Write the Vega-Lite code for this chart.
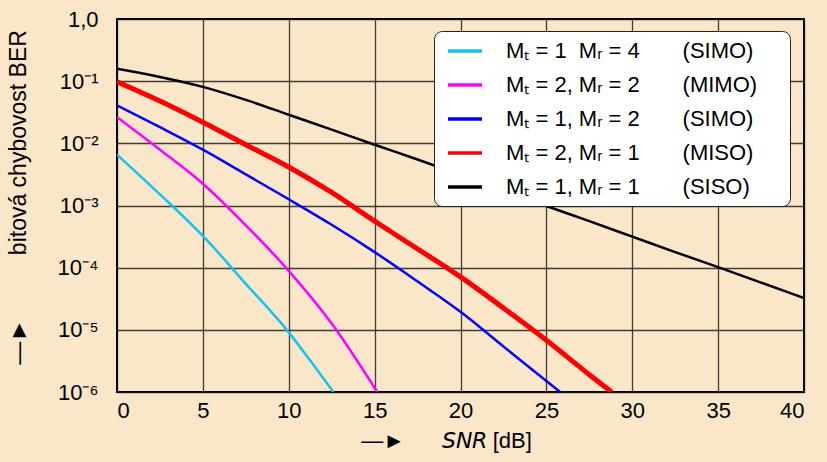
{
  "$schema": "https://vega.github.io/schema/vega-lite/v6.json",
  "width": 687,
  "height": 373,
  "autosize": {"type": "none"},
  "padding": {"left": 117, "top": 19, "right": 23, "bottom": 70},
  "background": "#FAE6C9",
  "config": {
    "font": "Liberation Sans",
    "view": {"stroke": "#000", "strokeWidth": 2, "fill": "#FAE6C9"},
    "axis": {
      "grid": true,
      "gridColor": "#111",
      "gridWidth": 1.3,
      "gridOpacity": 0.8,
      "ticks": false,
      "domain": false,
      "labelColor": "#000",
      "labelFont": "Liberation Sans",
      "labelFontSize": 22,
      "titleColor": "#000",
      "titleFont": "Liberation Sans",
      "titleFontSize": 22,
      "titleFontWeight": "normal"
    }
  },
  "data": {
    "values": [
      {"s": "Mₜ = 1\u00a0\u00a0Mᵣ = 4\u00a0\u00a0\u00a0\u00a0\u00a0\u00a0\u00a0(SIMO)\u00a0\u00a0\u00a0\u00a0\u200b", "snr": 0, "ber": 0.0066},
      {"s": "Mₜ = 1\u00a0\u00a0Mᵣ = 4\u00a0\u00a0\u00a0\u00a0\u00a0\u00a0\u00a0(SIMO)\u00a0\u00a0\u00a0\u00a0\u200b", "snr": 2.5, "ber": 0.00151},
      {"s": "Mₜ = 1\u00a0\u00a0Mᵣ = 4\u00a0\u00a0\u00a0\u00a0\u00a0\u00a0\u00a0(SIMO)\u00a0\u00a0\u00a0\u00a0\u200b", "snr": 5, "ber": 0.000324},
      {"s": "Mₜ = 1\u00a0\u00a0Mᵣ = 4\u00a0\u00a0\u00a0\u00a0\u00a0\u00a0\u00a0(SIMO)\u00a0\u00a0\u00a0\u00a0\u200b", "snr": 7.5, "ber": 0.000055},
      {"s": "Mₜ = 1\u00a0\u00a0Mᵣ = 4\u00a0\u00a0\u00a0\u00a0\u00a0\u00a0\u00a0(SIMO)\u00a0\u00a0\u00a0\u00a0\u200b", "snr": 10, "ber": 0.0000091},
      {"s": "Mₜ = 1\u00a0\u00a0Mᵣ = 4\u00a0\u00a0\u00a0\u00a0\u00a0\u00a0\u00a0(SIMO)\u00a0\u00a0\u00a0\u00a0\u200b", "snr": 11.25, "ber": 0.0000032},
      {"s": "Mₜ = 1\u00a0\u00a0Mᵣ = 4\u00a0\u00a0\u00a0\u00a0\u00a0\u00a0\u00a0(SIMO)\u00a0\u00a0\u00a0\u00a0\u200b", "snr": 12.6, "ber": 0.000001},

      {"s": "Mₜ = 2,\u00a0Mᵣ = 2\u00a0\u00a0\u00a0\u00a0\u00a0\u00a0\u00a0(MIMO)\u00a0\u00a0\u00a0\u00a0\u200b", "snr": 0, "ber": 0.0263},
      {"s": "Mₜ = 2,\u00a0Mᵣ = 2\u00a0\u00a0\u00a0\u00a0\u00a0\u00a0\u00a0(MIMO)\u00a0\u00a0\u00a0\u00a0\u200b", "snr": 2.5, "ber": 0.0079},
      {"s": "Mₜ = 2,\u00a0Mᵣ = 2\u00a0\u00a0\u00a0\u00a0\u00a0\u00a0\u00a0(MIMO)\u00a0\u00a0\u00a0\u00a0\u200b", "snr": 5, "ber": 0.00224},
      {"s": "Mₜ = 2,\u00a0Mᵣ = 2\u00a0\u00a0\u00a0\u00a0\u00a0\u00a0\u00a0(MIMO)\u00a0\u00a0\u00a0\u00a0\u200b", "snr": 7.5, "ber": 0.00048},
      {"s": "Mₜ = 2,\u00a0Mᵣ = 2\u00a0\u00a0\u00a0\u00a0\u00a0\u00a0\u00a0(MIMO)\u00a0\u00a0\u00a0\u00a0\u200b", "snr": 10, "ber": 0.000089},
      {"s": "Mₜ = 2,\u00a0Mᵣ = 2\u00a0\u00a0\u00a0\u00a0\u00a0\u00a0\u00a0(MIMO)\u00a0\u00a0\u00a0\u00a0\u200b", "snr": 12.5, "ber": 0.0000126},
      {"s": "Mₜ = 2,\u00a0Mᵣ = 2\u00a0\u00a0\u00a0\u00a0\u00a0\u00a0\u00a0(MIMO)\u00a0\u00a0\u00a0\u00a0\u200b", "snr": 15.15, "ber": 0.000001},

      {"s": "Mₜ = 1,\u00a0Mᵣ = 2\u00a0\u00a0\u00a0\u00a0\u00a0\u00a0\u00a0(SIMO)\u00a0\u00a0\u00a0\u00a0\u200b", "snr": 0, "ber": 0.0407},
      {"s": "Mₜ = 1,\u00a0Mᵣ = 2\u00a0\u00a0\u00a0\u00a0\u00a0\u00a0\u00a0(SIMO)\u00a0\u00a0\u00a0\u00a0\u200b", "snr": 2.5, "ber": 0.0182},
      {"s": "Mₜ = 1,\u00a0Mᵣ = 2\u00a0\u00a0\u00a0\u00a0\u00a0\u00a0\u00a0(SIMO)\u00a0\u00a0\u00a0\u00a0\u200b", "snr": 5, "ber": 0.0079},
      {"s": "Mₜ = 1,\u00a0Mᵣ = 2\u00a0\u00a0\u00a0\u00a0\u00a0\u00a0\u00a0(SIMO)\u00a0\u00a0\u00a0\u00a0\u200b", "snr": 7.5, "ber": 0.00316},
      {"s": "Mₜ = 1,\u00a0Mᵣ = 2\u00a0\u00a0\u00a0\u00a0\u00a0\u00a0\u00a0(SIMO)\u00a0\u00a0\u00a0\u00a0\u200b", "snr": 10, "ber": 0.00126},
      {"s": "Mₜ = 1,\u00a0Mᵣ = 2\u00a0\u00a0\u00a0\u00a0\u00a0\u00a0\u00a0(SIMO)\u00a0\u00a0\u00a0\u00a0\u200b", "snr": 12.5, "ber": 0.00049},
      {"s": "Mₜ = 1,\u00a0Mᵣ = 2\u00a0\u00a0\u00a0\u00a0\u00a0\u00a0\u00a0(SIMO)\u00a0\u00a0\u00a0\u00a0\u200b", "snr": 15, "ber": 0.000178},
      {"s": "Mₜ = 1,\u00a0Mᵣ = 2\u00a0\u00a0\u00a0\u00a0\u00a0\u00a0\u00a0(SIMO)\u00a0\u00a0\u00a0\u00a0\u200b", "snr": 17.5, "ber": 0.00006},
      {"s": "Mₜ = 1,\u00a0Mᵣ = 2\u00a0\u00a0\u00a0\u00a0\u00a0\u00a0\u00a0(SIMO)\u00a0\u00a0\u00a0\u00a0\u200b", "snr": 20, "ber": 0.0000195},
      {"s": "Mₜ = 1,\u00a0Mᵣ = 2\u00a0\u00a0\u00a0\u00a0\u00a0\u00a0\u00a0(SIMO)\u00a0\u00a0\u00a0\u00a0\u200b", "snr": 22.5, "ber": 0.0000054},
      {"s": "Mₜ = 1,\u00a0Mᵣ = 2\u00a0\u00a0\u00a0\u00a0\u00a0\u00a0\u00a0(SIMO)\u00a0\u00a0\u00a0\u00a0\u200b", "snr": 25, "ber": 0.0000015},
      {"s": "Mₜ = 1,\u00a0Mᵣ = 2\u00a0\u00a0\u00a0\u00a0\u00a0\u00a0\u00a0(SIMO)\u00a0\u00a0\u00a0\u00a0\u200b", "snr": 25.8, "ber": 0.000001},

      {"s": "Mₜ = 2,\u00a0Mᵣ = 1\u00a0\u00a0\u00a0\u00a0\u00a0\u00a0\u00a0(MISO)\u00a0\u00a0\u00a0\u00a0\u200b", "snr": 0, "ber": 0.098},
      {"s": "Mₜ = 2,\u00a0Mᵣ = 1\u00a0\u00a0\u00a0\u00a0\u00a0\u00a0\u00a0(MISO)\u00a0\u00a0\u00a0\u00a0\u200b", "snr": 2.5, "ber": 0.048},
      {"s": "Mₜ = 2,\u00a0Mᵣ = 1\u00a0\u00a0\u00a0\u00a0\u00a0\u00a0\u00a0(MISO)\u00a0\u00a0\u00a0\u00a0\u200b", "snr": 5, "ber": 0.0219},
      {"s": "Mₜ = 2,\u00a0Mᵣ = 1\u00a0\u00a0\u00a0\u00a0\u00a0\u00a0\u00a0(MISO)\u00a0\u00a0\u00a0\u00a0\u200b", "snr": 7.5, "ber": 0.0095},
      {"s": "Mₜ = 2,\u00a0Mᵣ = 1\u00a0\u00a0\u00a0\u00a0\u00a0\u00a0\u00a0(MISO)\u00a0\u00a0\u00a0\u00a0\u200b", "snr": 10, "ber": 0.00417},
      {"s": "Mₜ = 2,\u00a0Mᵣ = 1\u00a0\u00a0\u00a0\u00a0\u00a0\u00a0\u00a0(MISO)\u00a0\u00a0\u00a0\u00a0\u200b", "snr": 12.5, "ber": 0.00162},
      {"s": "Mₜ = 2,\u00a0Mᵣ = 1\u00a0\u00a0\u00a0\u00a0\u00a0\u00a0\u00a0(MISO)\u00a0\u00a0\u00a0\u00a0\u200b", "snr": 15, "ber": 0.00056},
      {"s": "Mₜ = 2,\u00a0Mᵣ = 1\u00a0\u00a0\u00a0\u00a0\u00a0\u00a0\u00a0(MISO)\u00a0\u00a0\u00a0\u00a0\u200b", "snr": 17.5, "ber": 0.0002},
      {"s": "Mₜ = 2,\u00a0Mᵣ = 1\u00a0\u00a0\u00a0\u00a0\u00a0\u00a0\u00a0(MISO)\u00a0\u00a0\u00a0\u00a0\u200b", "snr": 20, "ber": 0.000071},
      {"s": "Mₜ = 2,\u00a0Mᵣ = 1\u00a0\u00a0\u00a0\u00a0\u00a0\u00a0\u00a0(MISO)\u00a0\u00a0\u00a0\u00a0\u200b", "snr": 22.5, "ber": 0.0000224},
      {"s": "Mₜ = 2,\u00a0Mᵣ = 1\u00a0\u00a0\u00a0\u00a0\u00a0\u00a0\u00a0(MISO)\u00a0\u00a0\u00a0\u00a0\u200b", "snr": 25, "ber": 0.0000068},
      {"s": "Mₜ = 2,\u00a0Mᵣ = 1\u00a0\u00a0\u00a0\u00a0\u00a0\u00a0\u00a0(MISO)\u00a0\u00a0\u00a0\u00a0\u200b", "snr": 27.5, "ber": 0.0000019},
      {"s": "Mₜ = 2,\u00a0Mᵣ = 1\u00a0\u00a0\u00a0\u00a0\u00a0\u00a0\u00a0(MISO)\u00a0\u00a0\u00a0\u00a0\u200b", "snr": 28.8, "ber": 0.000001},

      {"s": "Mₜ = 1,\u00a0Mᵣ = 1\u00a0\u00a0\u00a0\u00a0\u00a0\u00a0\u00a0(SISO)\u00a0\u00a0\u00a0\u00a0\u200b", "snr": 0, "ber": 0.158},
      {"s": "Mₜ = 1,\u00a0Mᵣ = 1\u00a0\u00a0\u00a0\u00a0\u00a0\u00a0\u00a0(SISO)\u00a0\u00a0\u00a0\u00a0\u200b", "snr": 2.5, "ber": 0.117},
      {"s": "Mₜ = 1,\u00a0Mᵣ = 1\u00a0\u00a0\u00a0\u00a0\u00a0\u00a0\u00a0(SISO)\u00a0\u00a0\u00a0\u00a0\u200b", "snr": 5, "ber": 0.081},
      {"s": "Mₜ = 1,\u00a0Mᵣ = 1\u00a0\u00a0\u00a0\u00a0\u00a0\u00a0\u00a0(SISO)\u00a0\u00a0\u00a0\u00a0\u200b", "snr": 7.5, "ber": 0.05},
      {"s": "Mₜ = 1,\u00a0Mᵣ = 1\u00a0\u00a0\u00a0\u00a0\u00a0\u00a0\u00a0(SISO)\u00a0\u00a0\u00a0\u00a0\u200b", "snr": 10, "ber": 0.0288},
      {"s": "Mₜ = 1,\u00a0Mᵣ = 1\u00a0\u00a0\u00a0\u00a0\u00a0\u00a0\u00a0(SISO)\u00a0\u00a0\u00a0\u00a0\u200b", "snr": 12.5, "ber": 0.0166},
      {"s": "Mₜ = 1,\u00a0Mᵣ = 1\u00a0\u00a0\u00a0\u00a0\u00a0\u00a0\u00a0(SISO)\u00a0\u00a0\u00a0\u00a0\u200b", "snr": 15, "ber": 0.0095},
      {"s": "Mₜ = 1,\u00a0Mᵣ = 1\u00a0\u00a0\u00a0\u00a0\u00a0\u00a0\u00a0(SISO)\u00a0\u00a0\u00a0\u00a0\u200b", "snr": 17.5, "ber": 0.0055},
      {"s": "Mₜ = 1,\u00a0Mᵣ = 1\u00a0\u00a0\u00a0\u00a0\u00a0\u00a0\u00a0(SISO)\u00a0\u00a0\u00a0\u00a0\u200b", "snr": 20, "ber": 0.0031},
      {"s": "Mₜ = 1,\u00a0Mᵣ = 1\u00a0\u00a0\u00a0\u00a0\u00a0\u00a0\u00a0(SISO)\u00a0\u00a0\u00a0\u00a0\u200b", "snr": 22.5, "ber": 0.00174},
      {"s": "Mₜ = 1,\u00a0Mᵣ = 1\u00a0\u00a0\u00a0\u00a0\u00a0\u00a0\u00a0(SISO)\u00a0\u00a0\u00a0\u00a0\u200b", "snr": 25, "ber": 0.00098},
      {"s": "Mₜ = 1,\u00a0Mᵣ = 1\u00a0\u00a0\u00a0\u00a0\u00a0\u00a0\u00a0(SISO)\u00a0\u00a0\u00a0\u00a0\u200b", "snr": 27.5, "ber": 0.00056},
      {"s": "Mₜ = 1,\u00a0Mᵣ = 1\u00a0\u00a0\u00a0\u00a0\u00a0\u00a0\u00a0(SISO)\u00a0\u00a0\u00a0\u00a0\u200b", "snr": 30, "ber": 0.000316},
      {"s": "Mₜ = 1,\u00a0Mᵣ = 1\u00a0\u00a0\u00a0\u00a0\u00a0\u00a0\u00a0(SISO)\u00a0\u00a0\u00a0\u00a0\u200b", "snr": 32.5, "ber": 0.000178},
      {"s": "Mₜ = 1,\u00a0Mᵣ = 1\u00a0\u00a0\u00a0\u00a0\u00a0\u00a0\u00a0(SISO)\u00a0\u00a0\u00a0\u00a0\u200b", "snr": 35, "ber": 0.000102},
      {"s": "Mₜ = 1,\u00a0Mᵣ = 1\u00a0\u00a0\u00a0\u00a0\u00a0\u00a0\u00a0(SISO)\u00a0\u00a0\u00a0\u00a0\u200b", "snr": 37.5, "ber": 0.0000575},
      {"s": "Mₜ = 1,\u00a0Mᵣ = 1\u00a0\u00a0\u00a0\u00a0\u00a0\u00a0\u00a0(SISO)\u00a0\u00a0\u00a0\u00a0\u200b", "snr": 40, "ber": 0.0000324}
    ]
  },
  "encoding": {
    "x": {
      "field": "snr",
      "type": "quantitative",
      "scale": {"domain": [0, 40], "nice": false, "zero": false},
      "axis": {
        "values": [0, 5, 10, 15, 20, 25, 30, 35, 40],
        "labelPadding": 8,
        "title": "—►\u00a0\u00a0\u00a0\u00a0\u00a0\u00a0𝘚𝘕𝘙 [dB]",
        "titlePadding": 9,
        "titleX": 329
      }
    },
    "y": {
      "field": "ber",
      "type": "quantitative",
      "scale": {"type": "log", "domain": [0.000001, 1], "nice": false},
      "axis": {
        "values": [0.000001, 0.00001, 0.0001, 0.001, 0.01, 0.1, 1],
        "labelExpr": "datum.value >= 0.5 ? '1,0' : '10⁻' + ['', '¹', '²', '³', '⁴', '⁵', '⁶'][round(-log(datum.value) / LN10)]",
        "labelPadding": 19,
        "title": "—►\u00a0\u00a0\u00a0\u00a0\u00a0\u00a0\u00a0\u00a0\u00a0\u00a0bitová chybovost BER",
        "titleFontSize": 23,
        "titleAngle": 270,
        "titleX": -99,
        "titleY": 178,
        "titleAlign": "center",
        "titleBaseline": "middle"
      }
    },
    "color": {
      "field": "s",
      "type": "nominal",
      "scale": {
        "domain": [
          "Mₜ = 1\u00a0\u00a0Mᵣ = 4\u00a0\u00a0\u00a0\u00a0\u00a0\u00a0\u00a0(SIMO)\u00a0\u00a0\u00a0\u00a0\u200b",
          "Mₜ = 2,\u00a0Mᵣ = 2\u00a0\u00a0\u00a0\u00a0\u00a0\u00a0\u00a0(MIMO)\u00a0\u00a0\u00a0\u00a0\u200b",
          "Mₜ = 1,\u00a0Mᵣ = 2\u00a0\u00a0\u00a0\u00a0\u00a0\u00a0\u00a0(SIMO)\u00a0\u00a0\u00a0\u00a0\u200b",
          "Mₜ = 2,\u00a0Mᵣ = 1\u00a0\u00a0\u00a0\u00a0\u00a0\u00a0\u00a0(MISO)\u00a0\u00a0\u00a0\u00a0\u200b",
          "Mₜ = 1,\u00a0Mᵣ = 1\u00a0\u00a0\u00a0\u00a0\u00a0\u00a0\u00a0(SISO)\u00a0\u00a0\u00a0\u00a0\u200b"
        ],
        "range": ["#14C4F0", "#FF00FF", "#0000FF", "#FF0000", "#000000"]
      },
      "legend": {
        "title": null,
        "orient": "none",
        "direction": "vertical",
        "legendX": 317,
        "legendY": 12,
        "fillColor": "#FFFFFF",
        "strokeColor": "#222222",
        "cornerRadius": 8,
        "padding": 8,
        "symbolType": "M-0.6,0L2.8,0",
        "symbolSize": 400,
        "symbolStrokeWidth": 3.5,
        "labelFont": "Liberation Sans",
        "labelFontSize": 22,
        "labelColor": "#000",
        "labelOffset": 40,
        "labelLimit": 500,
        "rowPadding": 11,
        "zindex": 1
      }
    }
  },
  "layer": [
    {
      "transform": [{"filter": {"not": {"field": "s", "equal": "Mₜ = 2,\u00a0Mᵣ = 1\u00a0\u00a0\u00a0\u00a0\u00a0\u00a0\u00a0(MISO)\u00a0\u00a0\u00a0\u00a0\u200b"}}}],
      "mark": {"type": "line", "interpolate": "monotone", "clip": true, "strokeWidth": 2.5}
    },
    {
      "transform": [{"filter": {"field": "s", "equal": "Mₜ = 2,\u00a0Mᵣ = 1\u00a0\u00a0\u00a0\u00a0\u00a0\u00a0\u00a0(MISO)\u00a0\u00a0\u00a0\u00a0\u200b"}}],
      "mark": {"type": "line", "interpolate": "monotone", "clip": true, "strokeWidth": 5}
    }
  ]
}
